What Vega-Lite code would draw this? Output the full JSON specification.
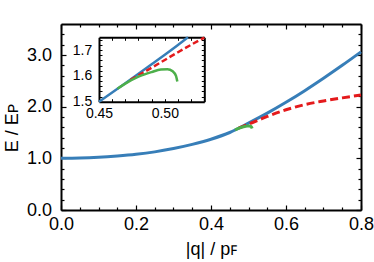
{
  "$schema": "https://vega.github.io/schema/vega-lite/v6.json",
  "width": 300,
  "height": 186,
  "autosize": "none",
  "padding": {"left": 61, "top": 24, "right": 13, "bottom": 52},
  "background": "white",
  "config": {
    "view": {"stroke": null},
    "axis": {
      "grid": false,
      "labelFont": "Liberation Sans",
      "titleFont": "Liberation Sans",
      "labelColor": "#000",
      "titleColor": "#000",
      "domainColor": "#000",
      "tickColor": "#000",
      "titleFontWeight": "normal",
      "labelFlush": false,
      "labelOverlap": false
    }
  },
  "datasets": {
    "blue": [
      {"q": 0, "E": 1.0}, {"q": 0.05, "E": 1.005}, {"q": 0.1, "E": 1.02}, {"q": 0.15, "E": 1.045},
      {"q": 0.2, "E": 1.078}, {"q": 0.25, "E": 1.125}, {"q": 0.3, "E": 1.19}, {"q": 0.35, "E": 1.27},
      {"q": 0.4, "E": 1.37}, {"q": 0.45, "E": 1.5}, {"q": 0.5, "E": 1.682}, {"q": 0.55, "E": 1.875},
      {"q": 0.6, "E": 2.085}, {"q": 0.65, "E": 2.31}, {"q": 0.7, "E": 2.55}, {"q": 0.75, "E": 2.8},
      {"q": 0.8, "E": 3.06}
    ],
    "red": [
      {"q": 0.474, "E": 1.585}, {"q": 0.5, "E": 1.662}, {"q": 0.53, "E": 1.749}, {"q": 0.55, "E": 1.81},
      {"q": 0.6, "E": 1.94}, {"q": 0.65, "E": 2.04}, {"q": 0.7, "E": 2.11}, {"q": 0.75, "E": 2.17},
      {"q": 0.8, "E": 2.225}
    ],
    "green": [
      {"q": 0.464, "E": 1.55}, {"q": 0.47, "E": 1.57}, {"q": 0.48, "E": 1.597}, {"q": 0.49, "E": 1.615},
      {"q": 0.497, "E": 1.625}, {"q": 0.502, "E": 1.626}, {"q": 0.506, "E": 1.618}, {"q": 0.5085, "E": 1.6},
      {"q": 0.5095, "E": 1.578}
    ],
    "blueIn": [
      {"q": 0.45, "E": 1.5}, {"q": 0.47, "E": 1.572}, {"q": 0.49, "E": 1.645}, {"q": 0.5, "E": 1.682},
      {"q": 0.51, "E": 1.72}, {"q": 0.5176, "E": 1.75}
    ],
    "redIn": [
      {"q": 0.474, "E": 1.585}, {"q": 0.49, "E": 1.632}, {"q": 0.5, "E": 1.662}, {"q": 0.51, "E": 1.692},
      {"q": 0.52, "E": 1.721}, {"q": 0.53, "E": 1.749}
    ]
  },
  "layer": [
    {
      "data": {"name": "blue"},
      "mark": {"type": "line", "color": "#377eb8", "strokeWidth": 3, "interpolate": "monotone"},
      "encoding": {
        "x": {"field": "q", "type": "quantitative", "scale": {"domain": [0, 0.8], "nice": false, "zero": false},
          "axis": {"orient": "bottom", "values": [0, 0.2, 0.4, 0.6, 0.8], "format": ".1f", "ticks": false, "domain": true, "domainWidth": 2,
            "labelFontSize": 18, "labelPadding": 5, "title": "|q| / pꜰ", "titleFontSize": 18, "titleY": 44.5, "titleBaseline": "alphabetic"}},
        "y": {"field": "E", "type": "quantitative", "scale": {"domain": [0, 3.6], "nice": false, "zero": false},
          "axis": {"orient": "left", "values": [0, 1, 2, 3], "format": ".1f", "ticks": false, "domain": true, "domainWidth": 2,
            "labelFontSize": 18, "labelPadding": 9.5, "title": "E / Eᴘ", "titleFontSize": 18, "titleX": -44, "titleY": 103.5,
            "titleAngle": 270, "titleBaseline": "alphabetic", "titleAlign": "center"}}
      }
    },
    {
      "data": {"name": "red"},
      "mark": {"type": "line", "color": "#e41a1c", "strokeWidth": 3, "strokeDash": [8, 4], "interpolate": "monotone"},
      "encoding": {
        "x": {"field": "q", "type": "quantitative", "scale": {"domain": [0, 0.8], "nice": false, "zero": false},
          "axis": {"orient": "bottom", "values": [0, 0.2, 0.4, 0.6, 0.8], "labels": false, "domain": false, "tickSize": -5, "tickWidth": 1.2, "title": null}},
        "y": {"field": "E", "type": "quantitative", "scale": {"domain": [0, 3.6], "nice": false, "zero": false},
          "axis": {"orient": "left", "values": [0, 1, 2, 3], "labels": false, "domain": false, "tickSize": -5, "tickWidth": 1.2, "title": null}}
      }
    },
    {
      "data": {"name": "green"},
      "mark": {"type": "line", "color": "#4daf4a", "strokeWidth": 3, "interpolate": "monotone"},
      "encoding": {
        "x": {"field": "q", "type": "quantitative", "scale": {"domain": [0, 0.8], "nice": false, "zero": false},
          "axis": {"orient": "bottom", "values": [0.05, 0.1, 0.15, 0.25, 0.3, 0.35, 0.45, 0.5, 0.55, 0.65, 0.7, 0.75], "labels": false, "domain": false, "tickSize": -3, "tickWidth": 1.2, "title": null}},
        "y": {"field": "E", "type": "quantitative", "scale": {"domain": [0, 3.6], "nice": false, "zero": false},
          "axis": {"orient": "left", "values": [0.2, 0.4, 0.6, 0.8, 1.2, 1.4, 1.6, 1.8, 2.2, 2.4, 2.6, 2.8, 3.2, 3.4], "labels": false, "domain": false, "tickSize": -3, "tickWidth": 1.2, "title": null}}
      }
    },
    {
      "data": {"name": "blue"},
      "mark": {"type": "line", "strokeOpacity": 0},
      "encoding": {
        "x": {"field": "q", "type": "quantitative", "scale": {"domain": [0, 0.8], "nice": false, "zero": false},
          "axis": {"orient": "top", "values": [0, 0.2, 0.4, 0.6, 0.8], "labels": false, "domain": true, "domainWidth": 2, "tickSize": -5, "tickWidth": 1.2, "title": null}},
        "y": {"field": "E", "type": "quantitative", "scale": {"domain": [0, 3.6], "nice": false, "zero": false},
          "axis": {"orient": "right", "values": [0, 1, 2, 3], "labels": false, "domain": true, "domainWidth": 2, "tickSize": -5, "tickWidth": 1.2, "title": null}}
      }
    },
    {
      "data": {"name": "blue"},
      "mark": {"type": "line", "strokeOpacity": 0},
      "encoding": {
        "x": {"field": "q", "type": "quantitative", "scale": {"domain": [0, 0.8], "nice": false, "zero": false},
          "axis": {"orient": "top", "values": [0.05, 0.1, 0.15, 0.25, 0.3, 0.35, 0.45, 0.5, 0.55, 0.65, 0.7, 0.75], "labels": false, "domain": false, "tickSize": -3, "tickWidth": 1.2, "title": null}},
        "y": {"field": "E", "type": "quantitative", "scale": {"domain": [0, 3.6], "nice": false, "zero": false},
          "axis": {"orient": "right", "values": [0.2, 0.4, 0.6, 0.8, 1.2, 1.4, 1.6, 1.8, 2.2, 2.4, 2.6, 2.8, 3.2, 3.4], "labels": false, "domain": false, "tickSize": -3, "tickWidth": 1.2, "title": null}}
      }
    },
    {
      "data": {"name": "blueIn"},
      "mark": {"type": "line", "color": "#377eb8", "strokeWidth": 2.5, "interpolate": "monotone"},
      "encoding": {
        "x": {"field": "q", "type": "quantitative", "scale": {"domain": [0.45, 0.53], "range": [38, 143.3], "nice": false, "zero": false},
          "axis": {"orient": "bottom", "offset": -108.3, "values": [0.45, 0.5], "format": ".2f", "ticks": false, "domain": true, "domainWidth": 2,
            "labelFontSize": 14, "labelPadding": 4.6, "title": null}},
        "y": {"field": "E", "type": "quantitative", "scale": {"domain": [1.5, 1.75], "range": [77.7, 13.3], "nice": false, "zero": false},
          "axis": {"orient": "left", "offset": -38, "values": [1.5, 1.6, 1.7], "format": ".1f", "ticks": false, "domain": true, "domainWidth": 2,
            "labelFontSize": 14, "labelPadding": 7.3, "title": null}}
      }
    },
    {
      "data": {"name": "redIn"},
      "mark": {"type": "line", "color": "#e41a1c", "strokeWidth": 2.5, "strokeDash": [6, 3], "interpolate": "monotone"},
      "encoding": {
        "x": {"field": "q", "type": "quantitative", "scale": {"domain": [0.45, 0.53], "range": [38, 143.3], "nice": false, "zero": false},
          "axis": {"orient": "bottom", "offset": -108.3, "values": [0.46, 0.47, 0.48, 0.49, 0.5, 0.51, 0.52], "labels": false, "domain": false, "tickSize": -3, "tickWidth": 1, "title": null}},
        "y": {"field": "E", "type": "quantitative", "scale": {"domain": [1.5, 1.75], "range": [77.7, 13.3], "nice": false, "zero": false},
          "axis": {"orient": "left", "offset": -38, "values": [1.52, 1.54, 1.56, 1.58, 1.6, 1.62, 1.64, 1.66, 1.68, 1.7, 1.72, 1.74], "labels": false, "domain": false, "tickSize": -3, "tickWidth": 1, "title": null}}
      }
    },
    {
      "data": {"name": "green"},
      "mark": {"type": "line", "color": "#4daf4a", "strokeWidth": 2.5, "interpolate": "monotone"},
      "encoding": {
        "x": {"field": "q", "type": "quantitative", "scale": {"domain": [0.45, 0.53], "range": [38, 143.3], "nice": false, "zero": false},
          "axis": {"orient": "top", "offset": -13.3, "values": [0.46, 0.47, 0.48, 0.49, 0.5, 0.51, 0.52], "labels": false, "domain": true, "domainWidth": 2, "tickSize": -3, "tickWidth": 1, "title": null}},
        "y": {"field": "E", "type": "quantitative", "scale": {"domain": [1.5, 1.75], "range": [77.7, 13.3], "nice": false, "zero": false},
          "axis": {"orient": "right", "offset": -156.7, "values": [1.52, 1.54, 1.56, 1.58, 1.6, 1.62, 1.64, 1.66, 1.68, 1.7, 1.72, 1.74], "labels": false, "domain": true, "domainWidth": 2, "tickSize": -3, "tickWidth": 1, "title": null}}
      }
    }
  ],
  "resolve": {"scale": {"x": "independent", "y": "independent"}, "axis": {"x": "independent", "y": "independent"}}
}
